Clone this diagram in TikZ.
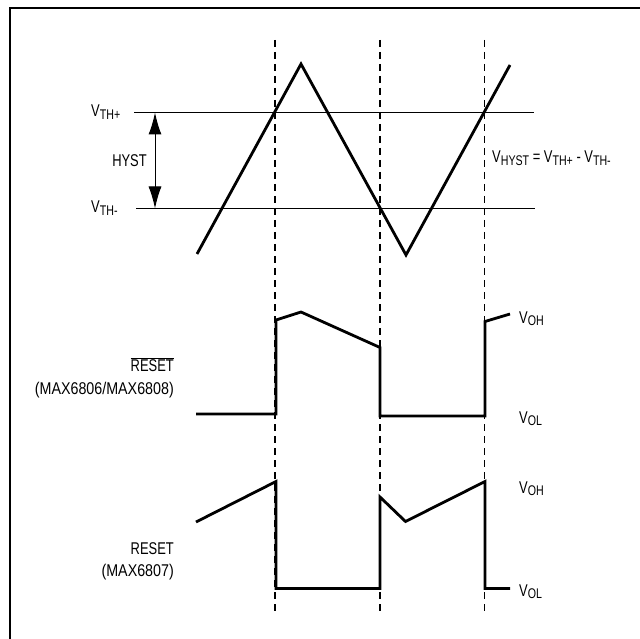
\documentclass[tikz,border=0pt]{standalone}
\usepackage{fontspec}
\setmainfont[FakeStretch=0.76]{Liberation Sans}
\newfontfamily\widefont[FakeStretch=0.84]{Liberation Sans}
\usetikzlibrary{arrows.meta}
\newcommand\Vsub[1]{V\raisebox{-2.5pt}{\fontsize{14}{14}\selectfont #1}}
\begin{document}
\begin{tikzpicture}[x=1pt,y=-1pt,
  lbl/.style={inner sep=0pt,font=\fontsize{17}{17}\selectfont},
  wave/.style={line width=2.8pt,line join=miter},
  thr/.style={line width=1pt},
  guide/.style={line width=1.3pt,dash pattern=on 7pt off 5pt}]
\useasboundingbox (0,0) rectangle (640,639);
% frame (top and left only)
\draw[line width=2pt] (9.5,639) -- (9.5,8) -- (640,8);
% dashed guides
\foreach \n/\x in {g1/275,g2/380,g3/484.5}{
  \coordinate (\n t) at (\x,40);
  \coordinate (\n b) at (\x,612);
  \draw[guide] (\n t) -- (\n b);
}
% threshold lines
\coordinate (thpL) at (134,112.5);
\coordinate (thpR) at (534,112.5);
\coordinate (thmL) at (136,208.5);
\coordinate (thmR) at (535,208.5);
\draw[thr] (thpL) -- (thpR);
\draw[thr] (thmL) -- (thmR);
% hysteresis arrow
\coordinate (ha) at (155,112.5);
\coordinate (hb) at (155,208.5);
\draw[line width=1pt,{Latex[length=22pt,width=13pt]}-{Latex[length=22pt,width=13pt]}] (ha) -- (hb);
\node[lbl] (hyst) at (129.5,161) {HYST};
\node[lbl,anchor=base west] (vthp) at (91,117) {\Vsub{TH+}};
\node[lbl,anchor=base west] (vthm) at (91,213) {\Vsub{TH-}};
\node[lbl,anchor=base west] (vhyst) at (492,163) {\Vsub{HYST} = \Vsub{TH+} - \Vsub{TH-}};
% triangle input
\draw[wave] (197,254) -- (301,64) -- (406,255) -- (510,65);
% RESET-bar output
\draw[wave] (196,414) -- (276,414) -- (276,320) -- (301,312) -- (380,347.5)
  -- (380,416) -- (485,416) -- (485,321.5) -- (510,314);
\node[lbl,anchor=base east] (rbar) at (174,371) {$\overline{\mbox{RESET}}$};
\node[lbl,anchor=base east] (rbarm) at (174,394) {\widefont (MAX6806/MAX6808)};
\node[lbl,anchor=base west] (voh1) at (519,323) {\Vsub{OH}};
\node[lbl,anchor=base west] (vol1) at (519,423) {\Vsub{OL}};
% RESET output
\draw[wave] (196,522) -- (276,481.5) -- (276,588.5) -- (380,588.5) -- (380,497)
  -- (405.5,521.5) -- (485,481.5) -- (485,588.5) -- (510,588.5);
\node[lbl,anchor=base east] (rst) at (174,554) {RESET};
\node[lbl,anchor=base east] (rstm) at (174,576) {\widefont (MAX6807)};
\node[lbl,anchor=base west] (voh2) at (519,493) {\Vsub{OH}};
\node[lbl,anchor=base west] (vol2) at (519,596) {\Vsub{OL}};
\end{tikzpicture}
\end{document}
